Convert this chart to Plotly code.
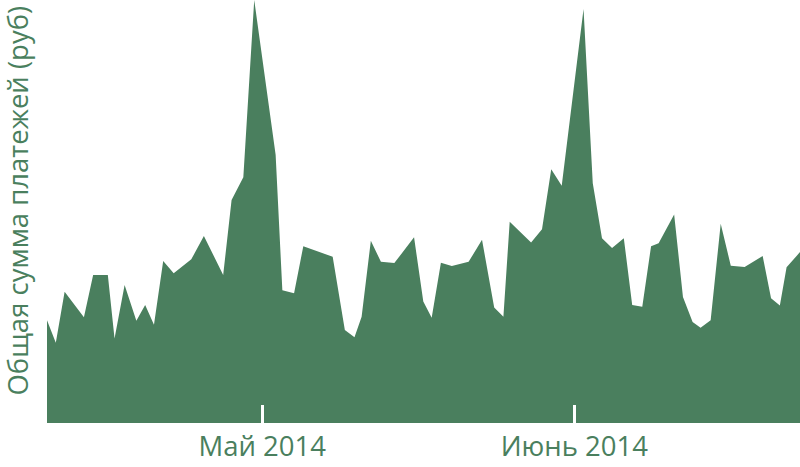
import plotly.graph_objects as go

# Timestamps of the data points
dates = [
    "2014-04-09 15:00", "2014-04-10 12:00", "2014-04-11 09:00", "2014-04-13 07:00",
    "2014-04-14 05:00", "2014-04-15 16:00", "2014-04-16 08:00", "2014-04-17 08:00",
    "2014-04-18 12:00", "2014-04-19 09:00", "2014-04-20 06:00", "2014-04-21 04:00",
    "2014-04-22 05:00", "2014-04-23 23:00", "2014-04-25 05:00", "2014-04-27 03:00",
    "2014-04-27 23:00", "2014-04-29 03:00", "2014-04-30 05:00", "2014-05-02 08:00",
    "2014-05-03 00:00", "2014-05-04 04:00", "2014-05-05 02:00", "2014-05-08 00:00",
    "2014-05-09 05:00", "2014-05-10 04:00", "2014-05-10 21:00", "2014-05-11 19:00",
    "2014-05-12 19:00", "2014-05-14 03:00", "2014-05-16 02:00", "2014-05-17 00:00",
    "2014-05-17 20:00", "2014-05-18 18:00", "2014-05-19 20:00", "2014-05-21 12:00",
    "2014-05-22 20:00", "2014-05-24 01:00", "2014-05-24 23:00", "2014-05-25 14:00",
    "2014-05-27 17:00", "2014-05-28 19:00", "2014-05-29 17:00", "2014-05-30 18:00",
    "2014-06-01 22:00", "2014-06-02 20:00", "2014-06-03 18:00", "2014-06-04 18:00",
    "2014-06-05 22:00", "2014-06-06 18:00", "2014-06-07 18:00", "2014-06-08 15:00",
    "2014-06-09 09:00", "2014-06-10 22:00", "2014-06-11 19:00", "2014-06-12 18:00",
    "2014-06-13 13:00", "2014-06-14 13:00", "2014-06-15 13:00", "2014-06-16 13:00",
    "2014-06-17 22:00", "2014-06-19 17:00", "2014-06-20 13:00", "2014-06-21 10:00",
    "2014-06-22 02:00", "2014-06-23 10:00",
]

# Total payments (thousand rubles, estimated)
payments = [
    24.3, 19.0, 31.0, 25.0, 35.0, 35.0, 20.0, 32.6,
    24.2, 27.9, 23.2, 38.3, 35.4, 38.7, 44.2, 35.0,
    52.7, 58.1, 100.0, 63.4, 31.4, 30.7, 41.8, 39.3,
    22.0, 20.3, 25.1, 43.1, 38.1, 37.8, 43.9, 28.7,
    24.9, 37.9, 37.1, 38.1, 43.3, 27.3, 25.1, 47.6,
    42.7, 45.8, 60.0, 56.1, 97.9, 56.7, 43.7, 41.4,
    43.7, 27.9, 27.5, 41.8, 42.5, 49.3, 29.8, 23.9,
    22.5, 24.3, 47.1, 37.2, 36.9, 39.5, 29.5, 27.8,
    36.8, 40.4,
]

tick_vals = ["2014-05-01", "2014-06-01"]
tick_text = ["Май 2014", "Июнь 2014"]
y_title = "Общая сумма платежей (руб)"

GREEN = "#4a7f5e"

fig = go.Figure()
fig.add_trace(go.Scatter(
    x=dates, y=payments, mode="lines", fill="tozeroy",
    line=dict(width=0, color=GREEN), fillcolor=GREEN,
    hoverinfo="skip", showlegend=False,
))

fig.update_layout(
    width=800, height=467, autosize=False,
    margin=dict(l=47, r=0, t=0, b=44, pad=0),
    paper_bgcolor="white", plot_bgcolor="white",
    font=dict(family="Open Sans", color=GREEN, size=27.5),
    xaxis=dict(
        type="date", range=[dates[0], dates[-1]],
        tickvals=tick_vals, ticktext=tick_text,
        ticks="inside", ticklen=18, tickwidth=3, tickcolor="white",
        ticklabelstandoff=4,
        showgrid=False, zeroline=False, showline=False,
        tickfont=dict(size=27.5, color=GREEN),
    ),
    yaxis=dict(
        range=[0, max(payments)], showticklabels=False, showgrid=False,
        zeroline=False, showline=False, ticks="",
    ),
    annotations=[dict(
        text=y_title, textangle=-90, xref="paper", yref="paper",
        x=-0.039, y=0.525, xanchor="center", yanchor="middle",
        showarrow=False, font=dict(size=27.5, color=GREEN, family="Open Sans"),
    )],
)

post = (
    "document.body.style.margin='0';"
    "document.body.style.overflow='hidden';"
    "var gd=document.getElementById('{plot_id}');"
    "Plotly.relayout(gd,{width:800,height:467});"
)

fig.write_html("out.html", config={"responsive": False, "displayModeBar": False},
               post_script=post)
